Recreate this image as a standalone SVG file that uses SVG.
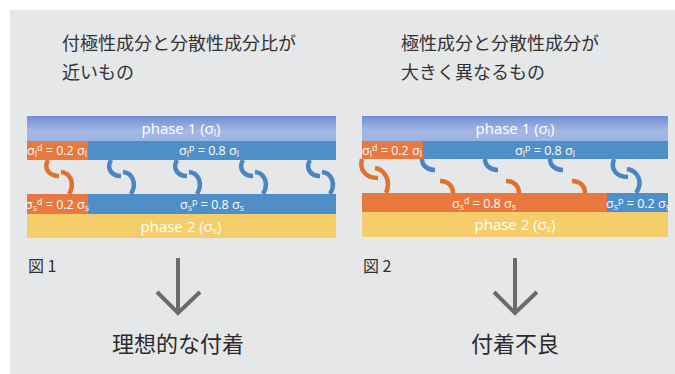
<svg xmlns="http://www.w3.org/2000/svg" width="675" height="374" viewBox="0 0 675 374">
<defs>
<linearGradient id="g1" x1="0" y1="0" x2="0" y2="1">
<stop offset="0" stop-color="#6f8fd4"/>
<stop offset="0.6" stop-color="#a3b8e4"/>
<stop offset="1" stop-color="#9db3e2"/>
</linearGradient>
<style>
.jp{font-family:"Noto Sans CJK JP","Noto Sans",sans-serif;fill:#333333}
.t1{font-size:18px}
.t2{font-size:22px;fill:#2b2b2b}
.fig{font-size:16px}
.ph{font-family:"Open Sans","Liberation Sans",sans-serif;font-size:15px;fill:#ffffff;text-anchor:middle}
.lb{font-family:"Open Sans","Liberation Sans",sans-serif;font-size:12.5px;fill:#ffffff;text-anchor:middle}
.sm{font-size:9px}
.blue{fill:#4f8fc8}
.orange{fill:#e8783e}
.yellow{fill:#f6cd6b}
.hb{fill:none;stroke:#4a86c2;stroke-width:4.5}
.ho{fill:none;stroke:#e2702f;stroke-width:4.5}
.arr{fill:none;stroke:#6b6b6b;stroke-width:4}
</style>
</defs>
<rect x="10" y="10" width="665" height="364" fill="#e6e7e9"/>
<g id="title-left">
<text class="jp t1" x="62" y="50">付極性成分と分散性成分比が</text>
<text class="jp t1" x="62" y="79">近いもの</text>
</g>
<g id="title-right">
<text class="jp t1" x="401" y="50">極性成分と分散性成分が</text>
<text class="jp t1" x="401" y="79">大きく異なるもの</text>
</g>
<g id="fig1">
<g id="f1-phase1"><rect x="27" y="116" width="309" height="25" fill="url(#g1)"/><text class="ph" x="181" y="134">phase 1 (σ<tspan class="sm" dy="2">l</tspan><tspan dy="-2">)</tspan></text></g>
<g id="f1-lp"><rect class="blue" x="27" y="141" width="309" height="19"/><text class="lb" x="209" y="155">σ<tspan class="sm" dy="2">l</tspan><tspan class="sm" dy="-6">p</tspan><tspan dy="4"> = 0.8 σ</tspan><tspan class="sm" dy="2">l</tspan></text></g>
<g id="f1-ld"><rect class="orange" x="27" y="141" width="61" height="19"/><text class="lb" x="57" y="155">σ<tspan class="sm" dy="2">l</tspan><tspan class="sm" dy="-6">d</tspan><tspan dy="4"> = 0.2 σ</tspan><tspan class="sm" dy="2">l</tspan></text></g>
<g id="f1-sp"><rect class="blue" x="27" y="194" width="309" height="20"/><text class="lb" x="212" y="209">σ<tspan class="sm" dy="2">s</tspan><tspan class="sm" dy="-6">p</tspan><tspan dy="4"> = 0.8 σ</tspan><tspan class="sm" dy="2">s</tspan></text></g>
<g id="f1-sd"><rect class="orange" x="27" y="194" width="61" height="20"/><text class="lb" x="57" y="209">σ<tspan class="sm" dy="2">s</tspan><tspan class="sm" dy="-6">d</tspan><tspan dy="4"> = 0.2 σ</tspan><tspan class="sm" dy="2">s</tspan></text></g>
<g id="f1-phase2"><rect class="yellow" x="27" y="214" width="309" height="24"/><text class="ph" x="181" y="232">phase 2 (σ<tspan class="sm" dy="2">s</tspan><tspan dy="-2">)</tspan></text></g>
<g id="f1-label"><text class="jp fig" x="28" y="272">図 1</text></g>
<g id="f1-result"><text class="jp t2" x="178" y="352" text-anchor="middle">理想的な付着</text></g>
</g>
<g id="fig2">
<g id="f2-phase1"><rect x="362" y="116" width="306" height="25" fill="url(#g1)"/><text class="ph" x="515" y="134">phase 1 (σ<tspan class="sm" dy="2">l</tspan><tspan dy="-2">)</tspan></text></g>
<g id="f2-lp"><rect class="blue" x="362" y="141" width="306" height="18"/><text class="lb" x="545" y="155">σ<tspan class="sm" dy="2">l</tspan><tspan class="sm" dy="-6">p</tspan><tspan dy="4"> = 0.8 σ</tspan><tspan class="sm" dy="2">l</tspan></text></g>
<g id="f2-ld"><rect class="orange" x="362" y="141" width="61" height="18"/><text class="lb" x="392" y="155">σ<tspan class="sm" dy="2">l</tspan><tspan class="sm" dy="-6">d</tspan><tspan dy="4"> = 0.2 σ</tspan><tspan class="sm" dy="2">l</tspan></text></g>
<g id="f2-sd"><rect class="orange" x="362" y="193" width="245" height="19"/><text class="lb" x="484" y="208">σ<tspan class="sm" dy="2">s</tspan><tspan class="sm" dy="-6">d</tspan><tspan dy="4"> = 0.8 σ</tspan><tspan class="sm" dy="2">s</tspan></text></g>
<g id="f2-sp"><rect class="blue" x="607" y="193" width="61" height="19"/><text class="lb" x="638" y="208">σ<tspan class="sm" dy="2">s</tspan><tspan class="sm" dy="-6">p</tspan><tspan dy="4"> = 0.2 σ</tspan><tspan class="sm" dy="2">s</tspan></text></g>
<g id="f2-phase2"><rect class="yellow" x="362" y="212" width="306" height="25" /><text class="ph" x="515" y="230">phase 2 (σ<tspan class="sm" dy="2">s</tspan><tspan dy="-2">)</tspan></text></g>
<g id="f2-label"><text class="jp fig" x="363" y="272">図 2</text></g>
<g id="f2-result"><text class="jp t2" x="515" y="352" text-anchor="middle">付着不良</text></g>
</g>
<g id="connectors">
<path class="ho" d="M48,160 C43,169 50,176 59,176 M61,172 C71,173 75,184 69,194"/>
<path class="hb" d="M111,160 C106,169 112,176 121,176 M123,172 C133,173 137,184 131,194"/>
<path class="hb" d="M177,160 C172,169 178,176 187,176 M189,172 C199,173 203,184 197,194"/>
<path class="hb" d="M243,160 C238,169 244,176 253,176 M255,172 C265,173 269,184 263,194"/>
<path class="hb" d="M310,160 C305,169 311,176 320,176 M322,172 C332,173 336,184 330,194"/>
<path class="ho" d="M362,159 C359,170 366,178 378,178 M375,168 C386,170 391,182 386,193"/>
<path class="hb" d="M422,159 C422,166 428,170 435,170 M485,159 C485,166 491,170 498,170 M550,159 C550,166 556,170 563,170"/>
<path class="ho" d="M440,181 C448,181 453,186 453,193 M506,181 C514,181 519,186 519,193 M572,181 C580,181 585,186 585,193"/>
<path class="hb" d="M614,159 C610,170 617,177 628,177 M627,169 C639,171 643,183 636,193"/>
<path class="arr" d="M178,258 V313 M157,292 L178,313 L200,292"/>
<path class="arr" d="M515,258 V313 M494,292 L515,313 L537,292"/>
</g>
</svg>
